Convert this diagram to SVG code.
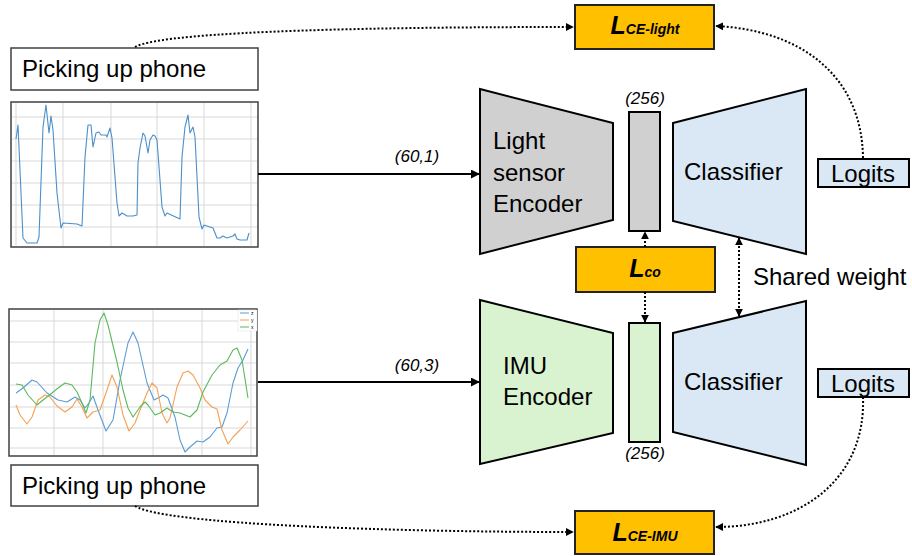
<svg xmlns="http://www.w3.org/2000/svg" width="912" height="556" viewBox="0 0 912 556">
<defs>
<marker id="ah" viewBox="0 0 10 10" refX="9" refY="5" markerWidth="9" markerHeight="9" markerUnits="userSpaceOnUse" orient="auto-start-reverse"><path d="M0,0 L10,5 L0,10 z" fill="#000"/></marker>
<marker id="ahs" viewBox="0 0 10 10" refX="9" refY="5" markerWidth="8" markerHeight="8" markerUnits="userSpaceOnUse" orient="auto-start-reverse"><path d="M0,0 L10,5 L0,10 z" fill="#000"/></marker>
<style>
.t{font-family:"Liberation Sans",Arial,sans-serif;fill:#000}
.lbl{font-size:24px}
.dim{font-size:17px;font-style:italic}
.loss{font-family:"Liberation Sans",Arial,sans-serif;font-weight:bold;font-style:italic;fill:#000}
.box{fill:#fff;stroke:#404040;stroke-width:1.5}
.lossbox{fill:#FFC000;stroke:#222;stroke-width:2}
.shape{stroke:#000;stroke-width:2}
.gray{fill:#D0D0D0}
.green{fill:#D9F2D0}
.blue{fill:#DAE8F5}
.grid{stroke:#D9D9D9;stroke-width:1}
.frame{fill:#fff;stroke:#404040;stroke-width:1.5}
.solid{fill:none;stroke:#000;stroke-width:2;marker-end:url(#ah)}
.dot{fill:none;stroke:#000;stroke-width:2;stroke-dasharray:2 2}
.series{fill:none;stroke-width:1.1;stroke-linejoin:round}
</style>
</defs>

<g id="top-label">
<rect class="box" x="11" y="48" width="247" height="42"/>
<text class="t lbl" x="22" y="77">Picking up phone</text>
</g>

<g id="top-chart">
<rect class="frame" x="11" y="102" width="247" height="145"/>
<g class="grid">
<line x1="16" y1="103" x2="16" y2="246"/><line x1="63" y1="103" x2="63" y2="246"/><line x1="111" y1="103" x2="111" y2="246"/><line x1="157" y1="103" x2="157" y2="246"/><line x1="204" y1="103" x2="204" y2="246"/><line x1="251" y1="103" x2="251" y2="246"/>
<line x1="12" y1="117" x2="257" y2="117"/><line x1="12" y1="139" x2="257" y2="139"/><line x1="12" y1="161" x2="257" y2="161"/><line x1="12" y1="183" x2="257" y2="183"/><line x1="12" y1="205" x2="257" y2="205"/><line x1="12" y1="227" x2="257" y2="227"/>
</g>
<polyline class="series" stroke="#4C8FC8" points="16,139 18,125 23,238 27,243 37,243 39,237 43,127 46,105 49,133 51,116 53,130 57,193 61,228 63,223 77,224 82,226 85,157 88,125 91,125 93,147 96,133 99,132 101,135 106,135 107,137 110,128 112,138 117,203 119,216 122,213 127,216 133,216 137,215 138,163 140,148 143,133 145,136 148,153 150,140 153,135 155,136 157,140 162,207 165,216 167,213 180,219 182,157 185,127 188,115 190,133 193,127 195,137 199,217 202,229 204,225 213,228 217,238 220,238 223,236 227,238 233,236 235,234 237,239 240,240 247,240 249,233"/>
</g>

<g id="bottom-chart">
<rect class="frame" x="9" y="309" width="248" height="147"/>
<g class="grid">
<line x1="54" y1="310" x2="54" y2="455"/><line x1="103" y1="310" x2="103" y2="455"/><line x1="153" y1="310" x2="153" y2="455"/><line x1="202" y1="310" x2="202" y2="455"/><line x1="251" y1="310" x2="251" y2="455"/>
<line x1="10" y1="321" x2="256" y2="321"/><line x1="10" y1="342" x2="256" y2="342"/><line x1="10" y1="363" x2="256" y2="363"/><line x1="10" y1="385" x2="256" y2="385"/><line x1="10" y1="407" x2="256" y2="407"/><line x1="10" y1="428" x2="256" y2="428"/><line x1="10" y1="448" x2="256" y2="448"/>
</g>
<polyline class="series" stroke="#5B9BD5" points="16,393 23,388 32,380 37,382 47,393 58,400 67,402 75,397 80,400 85,408 89,403 93,396 98,410 106,431 113,420 120,380 128,343 133,332 138,343 147,383 154,400 158,398 163,395 168,398 175,417 180,440 185,452 190,447 197,441 203,442 210,437 217,428 222,427 227,413 233,383 238,368 243,360 248,349"/>
<polyline class="series" stroke="#F5A050" points="16,405 20,415 27,424 32,417 38,400 45,395 50,397 57,406 65,412 72,407 77,399 82,407 87,418 93,412 100,410 107,390 112,375 117,387 123,415 129,431 135,423 140,410 147,393 152,383 157,388 162,413 167,423 170,418 177,387 183,373 188,371 193,375 200,388 205,400 212,407 217,409 222,430 228,444 233,437 240,430 248,421"/>
<polyline class="series" stroke="#5DB85D" points="16,384 22,385 28,395 37,405 43,400 52,393 58,388 65,383 72,385 77,392 82,403 86,413 90,400 95,343 100,320 104,313 108,325 117,362 123,390 128,408 133,417 140,407 145,402 148,405 155,415 160,413 167,408 173,412 180,413 190,417 197,410 203,392 212,375 220,365 227,361 233,350 237,348 242,360 248,398"/>
<rect x="238" y="310" width="19" height="21" fill="#fff" stroke="#ddd" stroke-width="0.5"/>
<line x1="240" y1="313" x2="249" y2="313" stroke="#5B9BD5" stroke-width="1"/>
<line x1="240" y1="320" x2="249" y2="320" stroke="#F5A050" stroke-width="1"/>
<line x1="240" y1="327" x2="249" y2="327" stroke="#5DB85D" stroke-width="1"/>
<text class="t" x="251" y="315" font-size="5">z</text>
<text class="t" x="251" y="322" font-size="5">y</text>
<text class="t" x="251" y="329" font-size="5">x</text>
</g>

<g id="bottom-label">
<rect class="box" x="11" y="465" width="247" height="41"/>
<text class="t lbl" x="22" y="494">Picking up phone</text>
</g>

<g id="light-encoder">
<polygon class="shape gray" points="480,89 613,123 613,220 480,254"/>
<text class="t lbl" x="493" y="149">Light</text>
<text class="t lbl" x="493" y="181">sensor</text>
<text class="t lbl" x="493" y="212">Encoder</text>
</g>

<g id="light-feature">
<rect class="shape gray" x="629" y="112" width="31" height="119"/>
<text class="t dim" x="645" y="104" text-anchor="middle">(256)</text>
</g>

<g id="top-classifier">
<polygon class="shape blue" points="673,123 806,89 806,254 673,221"/>
<text class="t lbl" x="684" y="180">Classifier</text>
</g>

<g id="top-logits">
<rect class="shape blue" x="818" y="159" width="91" height="28" stroke-width="1.5"/>
<text class="t lbl" x="863" y="182" text-anchor="middle">Logits</text>
</g>

<g id="loss-ce-light">
<rect class="lossbox" x="575" y="5" width="139" height="44"/>
<text class="loss" x="645" y="34" text-anchor="middle"><tspan font-size="25">L</tspan><tspan font-size="14">CE-light</tspan></text>
</g>

<g id="loss-co">
<rect class="lossbox" x="576" y="247" width="139" height="45"/>
<text class="loss" x="645" y="277" text-anchor="middle"><tspan font-size="25">L</tspan><tspan font-size="14">co</tspan></text>
</g>

<g id="imu-encoder">
<polygon class="shape green" points="480,300 613,333 613,433 480,464"/>
<text class="t lbl" x="503" y="374">IMU</text>
<text class="t lbl" x="503" y="405">Encoder</text>
</g>

<g id="imu-feature">
<rect class="shape green" x="629" y="323" width="31" height="119"/>
<text class="t dim" x="645" y="459" text-anchor="middle">(256)</text>
</g>

<g id="bottom-classifier">
<polygon class="shape blue" points="673,333 806,301 806,465 673,432"/>
<text class="t lbl" x="684" y="390">Classifier</text>
</g>

<g id="bottom-logits">
<rect class="shape blue" x="818" y="369" width="91" height="28" stroke-width="1.5"/>
<text class="t lbl" x="863" y="392" text-anchor="middle">Logits</text>
</g>

<g id="loss-ce-imu">
<rect class="lossbox" x="575" y="511" width="139" height="43"/>
<text class="loss" x="645" y="541" text-anchor="middle"><tspan font-size="25">L</tspan><tspan font-size="14">CE-IMU</tspan></text>
</g>

<g id="shared-label">
<text class="t lbl" x="753" y="285">Shared weight</text>
</g>

<g id="connectors">
<line class="solid" x1="258" y1="174" x2="479" y2="174"/>
<text class="t dim" x="417" y="162" text-anchor="middle" font-size="16">(60,1)</text>
<line class="solid" x1="258" y1="382" x2="479" y2="382"/>
<text class="t dim" x="417" y="371" text-anchor="middle" font-size="16">(60,3)</text>
<path class="dot" d="M135,47 C165,30 400,27 573,27" marker-end="url(#ahs)"/>
<path class="dot" d="M863,158 C862,75 800,30 716,26" marker-end="url(#ahs)"/>
<path class="dot" d="M135,506 C165,525 400,532 573,532" marker-end="url(#ahs)"/>
<path class="dot" d="M863,397 C866,480 800,527 716,527" marker-end="url(#ahs)"/>
<line class="dot" x1="645" y1="247" x2="645" y2="232" marker-end="url(#ahs)"/>
<line class="dot" x1="645" y1="292" x2="645" y2="322" marker-end="url(#ahs)"/>
<line class="dot" x1="739" y1="238" x2="739" y2="316" marker-start="url(#ahs)" marker-end="url(#ahs)"/>
</g>
</svg>
